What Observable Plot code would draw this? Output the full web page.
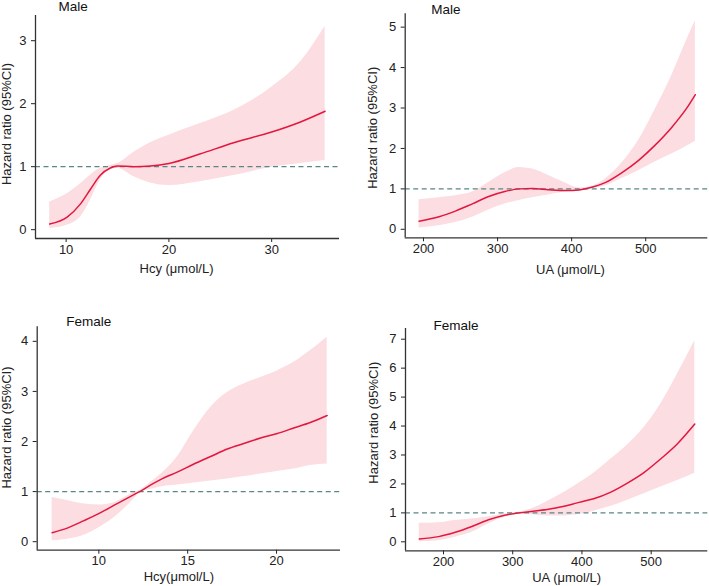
<!DOCTYPE html>
<html>
<head>
<meta charset="utf-8">
<script src="https://cdn.jsdelivr.net/npm/d3@7"></script>
<script src="https://cdn.jsdelivr.net/npm/@observablehq/plot@0.6"></script>
<style>
  body { margin: 0; background: #fff; }
  #wrap { position: relative; width: 709px; height: 586px; overflow: hidden; font-family: "Liberation Sans", Arial, sans-serif; }
  .panel { position: absolute; }
</style>
</head>
<body>
<div id="wrap"></div>
<script>
// ---- Data ----
// Male, Hcy
const maleHcyX     = [8.4, 10.1, 11.4, 12.4, 13.3, 14.3, 15.0, 16.6, 18.2, 20, 23, 26.3, 30, 32.8, 35.2];
const maleHcyHR    = [0.09, 0.20, 0.41, 0.65, 0.86, 0.98, 1.01, 1.00, 1.01, 1.05, 1.20, 1.38, 1.55, 1.71, 1.88];
const maleHcyUpper = [0.44, 0.57, 0.73, 0.87, 0.97, 1.02, 1.05, 1.23, 1.38, 1.50, 1.68, 1.89, 2.26, 2.66, 3.23];
const maleHcyLower = [0.02, 0.07, 0.20, 0.48, 0.78, 0.95, 0.97, 0.84, 0.74, 0.70, 0.76, 0.86, 0.99, 1.05, 1.10];

// Male, UA
const maleUAX     = [194, 221, 243, 266, 288, 311, 329, 347, 369, 392, 410, 423, 446, 467, 490, 512, 535, 557, 567];
const maleUAHR    = [0.20, 0.31, 0.45, 0.63, 0.81, 0.94, 1.00, 1.01, 0.98, 0.96, 0.975, 1.02, 1.16, 1.39, 1.70, 2.07, 2.52, 3.04, 3.33];
const maleUAUpper = [0.73, 0.78, 0.83, 0.92, 1.16, 1.41, 1.53, 1.49, 1.33, 1.14, 1.02, 1.04, 1.25, 1.62, 2.19, 2.94, 3.80, 4.75, 5.16];
const maleUALower = [0.03, 0.09, 0.17, 0.30, 0.48, 0.63, 0.71, 0.78, 0.85, 0.92, 0.96, 1.00, 1.08, 1.25, 1.45, 1.66, 1.86, 2.07, 2.18];

// Female, Hcy
const femaleHcyX     = [7.37, 8.22, 9.16, 10.1, 11.03, 11.97, 12.3, 12.9, 13.47, 14.41, 15.35, 16.29, 17.23, 18.16, 19.1, 20.04, 20.97, 21.9, 22.85];
const femaleHcyHR    = [0.18, 0.27, 0.42, 0.58, 0.76, 0.94, 1.00, 1.13, 1.24, 1.39, 1.55, 1.70, 1.85, 1.96, 2.07, 2.16, 2.27, 2.38, 2.52];
const femaleHcyUpper = [0.88, 0.82, 0.75, 0.73, 0.80, 0.98, 1.02, 1.18, 1.34, 1.69, 2.22, 2.68, 2.98, 3.15, 3.28, 3.41, 3.58, 3.81, 4.08];
const femaleHcyLower = [0.02, 0.05, 0.13, 0.30, 0.53, 0.85, 0.98, 1.04, 1.09, 1.13, 1.17, 1.21, 1.25, 1.30, 1.35, 1.40, 1.45, 1.52, 1.55];

// Female, UA
const femaleUAX     = [165, 193, 217, 241, 265, 290, 309, 338, 362, 386, 405, 417, 441, 465, 490, 514, 538, 563];
const femaleUAHR    = [0.10, 0.18, 0.33, 0.53, 0.76, 0.93, 1.00, 1.08, 1.17, 1.30, 1.42, 1.49, 1.71, 2.02, 2.40, 2.87, 3.39, 4.07];
const femaleUAUpper = [0.64, 0.66, 0.74, 0.79, 0.87, 0.97, 1.02, 1.25, 1.55, 1.88, 2.17, 2.37, 2.84, 3.33, 3.96, 4.77, 5.80, 6.95];
const femaleUALower = [0.00, 0.04, 0.16, 0.33, 0.62, 0.87, 0.99, 0.91, 0.89, 0.92, 0.98, 1.06, 1.22, 1.43, 1.66, 1.89, 2.12, 2.37];

// Tick values
const maleHcyXTicks = [10, 20, 30];     const maleHcyYTicks = [0, 1, 2, 3];
const maleUAXTicks = [200, 300, 400, 500]; const maleUAYTicks = [0, 1, 2, 3, 4, 5];
const femaleHcyXTicks = [10, 15, 20];   const femaleHcyYTicks = [0, 1, 2, 3, 4];
const femaleUAXTicks = [200, 300, 400, 500]; const femaleUAYTicks = [0, 1, 2, 3, 4, 5, 6, 7];

// Text
const yLabel = "Hazard ratio (95%CI)";
const titles = ["Male", "Male", "Female", "Female"];
const xLabels = ["Hcy (μmol/L)", "UA (μmol/L)", "Hcy(μmol/L)", "UA (μmol/L)"];

// ---- Layout ----
const panels = [
  {x: maleHcyX, hr: maleHcyHR, up: maleHcyUpper, lo: maleHcyLower, xt: maleHcyXTicks, yt: maleHcyYTicks,
   xd: [7.02, 36.6], yd: [-0.14, 3.40], left: 0, top: 0, width: 354,
   m: {l: 35, r: 15, t: 15, b: 55}, title: {dx: 23, dy: -9}, ylab: {dx: -29, dy: -3}, xlab: {dx: -11, dy: 30}},
  {x: maleUAX, hr: maleUAHR, up: maleUAUpper, lo: maleUALower, xt: maleUAXTicks, yt: maleUAYTicks,
   xd: [175.3, 583.8], yd: [-0.21, 5.33], left: 354, top: 0, width: 355,
   m: {l: 50.7, r: 1.7, t: 13.3, b: 55.7}, title: {dx: 26, dy: -4}, ylab: {dx: -32, dy: 2}, xlab: {dx: 14, dy: 32}},
  {x: femaleHcyX, hr: femaleHcyHR, up: femaleHcyUpper, lo: femaleHcyLower, xt: femaleHcyXTicks, yt: femaleHcyYTicks,
   xd: [6.53, 23.6], yd: [-0.17, 4.29], left: 0, top: 293, width: 354,
   m: {l: 36.7, r: 14, t: 33.3, b: 36.3}, title: {dx: 29, dy: -5}, ylab: {dx: -30, dy: -11}, xlab: {dx: -10, dy: 27}},
  {x: femaleUAX, hr: femaleUAHR, up: femaleUAUpper, lo: femaleUALower, xt: femaleUAXTicks, yt: femaleUAYTicks,
   xd: [145.1, 581.8], yd: [-0.31, 7.37], left: 354, top: 293, width: 355,
   m: {l: 51, r: 1.7, t: 35, b: 35.7}, title: {dx: 28, dy: -3}, ylab: {dx: -32, dy: -17}, xlab: {dx: 10, dy: 27}}
];

const RED = "#e3173e";
const BAND = "#fbdde2";
const DASH = "#5b8686";
const AXIS = "#333333";
const fmt = d3.format("d");

const wrap = document.getElementById("wrap");

panels.forEach((p, i) => {
  const data = p.x.map((x, j) => ({x, hr: p.hr[j], up: p.up[j], lo: p.lo[j]}));
  const chart = Plot.plot({
    width: p.width,
    height: 293,
    marginLeft: p.m.l, marginRight: p.m.r, marginTop: p.m.t, marginBottom: p.m.b,
    style: {fontFamily: '"Liberation Sans", Arial, sans-serif', fontSize: "13px", color: "#222", background: "transparent", overflow: "visible"},
    x: {domain: p.xd, ticks: p.xt, tickFormat: fmt, tickSize: 4, tickPadding: 2, label: null},
    y: {domain: p.yd, ticks: p.yt, tickFormat: fmt, tickSize: 4, tickPadding: 5, label: null},
    marks: [
      Plot.areaY(data, {x: "x", y1: "lo", y2: "up", fill: BAND, fillOpacity: 1, curve: "monotone-x"}),
      Plot.ruleY([1], {stroke: DASH, strokeWidth: 1.3, strokeDasharray: "5,3.5"}),
      Plot.line(data, {x: "x", y: "hr", stroke: RED, strokeWidth: 1.5, curve: "monotone-x"}),
      Plot.ruleX([p.xd[0]], {stroke: AXIS, strokeWidth: 1.3}),
      Plot.ruleY([p.yd[0]], {stroke: AXIS, strokeWidth: 1.3}),
      Plot.text([titles[i]], {text: d => d, frameAnchor: "top-left", textAnchor: "start", lineAnchor: "middle",
        dx: p.title.dx, dy: p.title.dy, fill: "#111", fontSize: 13.5}),
      Plot.text([yLabel], {text: d => d, frameAnchor: "left", rotate: -90, textAnchor: "middle", lineAnchor: "middle",
        dx: p.ylab.dx, dy: p.ylab.dy, fill: "#222", fontSize: 13}),
      Plot.text([xLabels[i]], {text: d => d, frameAnchor: "bottom", textAnchor: "middle", lineAnchor: "middle",
        dx: p.xlab.dx, dy: p.xlab.dy, fill: "#222", fontSize: 13})
    ]
  });
  const div = document.createElement("div");
  div.className = "panel";
  div.style.left = p.left + "px";
  div.style.top = p.top + "px";
  div.appendChild(chart);
  wrap.appendChild(div);
});
</script>
</body>
</html>
